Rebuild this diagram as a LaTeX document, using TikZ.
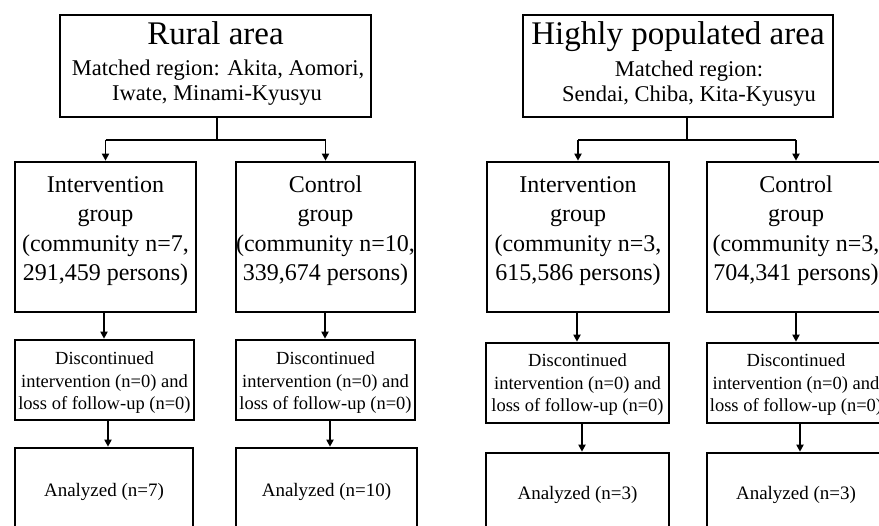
\documentclass[tikz,border=0pt]{standalone}
\usepackage{fontspec}
\setmainfont{Liberation Serif}
\usetikzlibrary{arrows.meta}
\begin{document}
\begin{tikzpicture}[x=1pt,y=-1pt,
  box/.style={draw=black, line width=2.6pt, inner sep=0pt},
  conn/.style={draw=black, line width=1.8pt},
  arr/.style={conn, -{Triangle[width=7pt,length=7pt]}},
  ttl/.style={anchor=base, font=\fontsize{33}{36}\selectfont, inner sep=0pt},
  sub/.style={anchor=base, font=\fontsize{22.5}{25}\selectfont, inner sep=0pt},
  grp/.style={anchor=base, font=\fontsize{24}{29}\selectfont, inner sep=0pt},
  sml/.style={anchor=base, font=\fontsize{18.5}{22}\selectfont, inner sep=0pt},
  ana/.style={anchor=base, font=\fontsize{19}{22}\selectfont, inner sep=0pt}]
\useasboundingbox (0,0) rectangle (879,526);
\fill[white] (0,0) rectangle (879,526);

% ---- boxes ----
\node[box, minimum width=311pt, minimum height=102pt] (rural) at (215.5,66) {};
\node[box, minimum width=310pt, minimum height=102pt] (high) at (678,66) {};

\node[box, minimum width=181pt, minimum height=150pt] (rint) at (105.5,237) {};
\node[box, minimum width=179pt, minimum height=150pt] (rctl) at (325.5,237) {};
\node[box, minimum width=182pt, minimum height=150pt] (hint) at (578,237) {};
\node[box, minimum width=178pt, minimum height=150pt] (hctl) at (796,237) {};

\node[box, minimum width=179pt, minimum height=80pt] (rdi) at (104.5,380) {};
\node[box, minimum width=179pt, minimum height=80pt] (rdc) at (325.5,380) {};
\node[box, minimum width=183pt, minimum height=80pt] (hdi) at (577.5,383) {};
\node[box, minimum width=178pt, minimum height=80pt] (hdc) at (796,383) {};

\node[box, minimum width=178pt, minimum height=96pt] (ran) at (104,496) {};
\node[box, minimum width=181pt, minimum height=96pt] (rac) at (326.5,496) {};
\node[box, minimum width=183pt, minimum height=92pt] (han) at (577.5,499) {};
\node[box, minimum width=178pt, minimum height=92pt] (hac) at (796,499) {};

% ---- texts ----
\node[ttl] (ruralT) at (215.5,45) {Rural area};
\node[sub] (ruralS1) at (218,76) {Matched region: Akita, Aomori,};
\node[sub] (ruralS2) at (217,101) {Iwate, Minami-Kyusyu};

\node[ttl] (highT) at (678,45) {Highly populated area};
\node[sub] (highS1) at (689,77) {Matched region:};
\node[sub] (highS2) at (689,102) {Sendai, Chiba, Kita-Kyusyu};

\foreach \nm/\x/\a/\b/\c/\d in {
  ri/105.5/Intervention/group/{(community n=7,}/{291,459 persons)},
  rc/325.5/Control/group/{(community n=10,}/{339,674 persons)},
  hi/578/Intervention/group/{(community n=3,}/{615,586 persons)},
  hc/796/Control/group/{(community n=3,}/{704,341 persons)}}{
  \node[grp] (\nm1) at (\x,193) {\a};
  \node[grp] (\nm2) at (\x,222) {\b};
  \node[grp] (\nm3) at (\x,252) {\c};
  \node[grp] (\nm4) at (\x,281) {\d};
}

\foreach \nm/\x/\y in {rdi/104.5/365, rdc/325.5/365, hdi/577.5/367, hdc/796/367}{
  \node[sml] (\nm1) at (\x,\y) {Discontinued};
  \node[sml] (\nm2) at (\x,\y+22.5) {intervention (n=0) and};
  \node[sml] (\nm3) at (\x,\y+45) {loss of follow-up (n=0)};
}

\node[ana] (ranT) at (104,497) {Analyzed (n=7)};
\node[ana] (racT) at (326.5,497) {Analyzed (n=10)};
\node[ana] (hanT) at (577.5,500) {Analyzed (n=3)};
\node[ana] (hacT) at (796,500) {Analyzed (n=3)};

% ---- connectors ----
\coordinate (rj) at (217,140);
\coordinate (hj) at (687,140);
\draw[conn] (rural.south -| rj) -- (rj);
\draw[conn] (high.south -| hj) -- (hj);
\draw[conn] (rj -| rint) -- (rj -| rctl);
\draw[conn] (hj -| hint) -- (hj -| hctl);
\draw[arr] (rj -| rint) -- (rint.north);
\draw[arr] (rj -| rctl) -- (rctl.north);
\draw[arr] (hj -| hint) -- (hint.north);
\draw[arr] (hj -| hctl) -- (hctl.north);

\draw[arr] ([xshift=-1.5pt]rint.south) -- ([xshift=-1.5pt]rint.south |- rdi.north);
\draw[arr] ([xshift=-0.5pt]rctl.south) -- ([xshift=-0.5pt]rctl.south |- rdc.north);
\draw[arr] ([xshift=-1pt]hint.south) -- ([xshift=-1pt]hint.south |- hdi.north);
\draw[arr] (hctl.south) -- (hctl.south |- hdc.north);

\draw[arr] ([xshift=3.5pt]rdi.south) -- ([xshift=3.5pt]rdi.south |- ran.north);
\draw[arr] ([xshift=4.5pt]rdc.south) -- ([xshift=4.5pt]rdc.south |- rac.north);
\draw[arr] ([xshift=4.5pt]hdi.south) -- ([xshift=4.5pt]hdi.south |- han.north);
\draw[arr] ([xshift=4pt]hdc.south) -- ([xshift=4pt]hdc.south |- hac.north);
\end{tikzpicture}
\end{document}
